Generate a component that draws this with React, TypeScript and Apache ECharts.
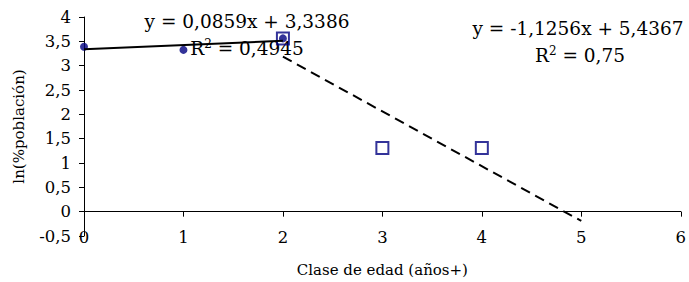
import React, { useEffect, useRef } from 'react';
import * as echarts from 'echarts';

// Data
const youngPoints: number[][] = [[0, 3.3887], [1, 3.3243], [2, 3.5605]];
const oldPoints: number[][] = [[2, 3.5605], [3, 1.3099], [4, 1.3093]];
const trendYoung: number[][] = [[0, 3.3386], [2, 3.5104]];
const trendOld: number[][] = [[2, 3.1855], [5, -0.1913]];
const eqYoung = ['y = 0,0859x + 3,3386', '0,4945'];
const eqOld = ['y = -1,1256x + 5,4367', '0,75'];
const xTitle = 'Clase de edad (años+)';
const yTitle = 'ln(%población)';

const FONT = '"DejaVu Serif", serif';
const NAVY = '#000080';

export default function App() {
  const ref = useRef<HTMLDivElement>(null);
  useEffect(() => {
    document.body.style.margin = '0';
    if (!ref.current) return;
    const chart = echarts.init(ref.current, undefined, { renderer: 'svg' });
    const fmt = (v: number) => String(v).replace('.', ',');
    const eqText = (x: number, y: number, t: string) => ({
      type: 'text', x, y, silent: true,
      style: { text: t, fill: '#000', font: `18.5px ${FONT}`, align: 'center', verticalAlign: 'middle' },
    });
    const r2Text = (x: number, y: number, v: string) => ({
      type: 'text', x, y, silent: true,
      style: {
        text: `{b|R}{s|2}{b| = ${v}}`, fill: '#000', align: 'center', verticalAlign: 'middle',
        rich: {
          b: { fontFamily: FONT, fontSize: 18.5, fill: '#000', color: '#000' },
          s: { fontFamily: FONT, fontSize: 12, fill: '#000', color: '#000', verticalAlign: 'top', padding: [0, 0, 9, 0] },
        },
      },
    });
    chart.setOption({
      animation: false,
      backgroundColor: '#fff',
      grid: { left: 84, right: 4, top: 17, bottom: 46 },
      xAxis: [
        {
          type: 'value', min: 0, max: 6, interval: 1,
          axisLine: { show: true, onZero: true, lineStyle: { color: '#000', width: 1 } },
          axisTick: { show: true, length: 5, lineStyle: { color: '#000' } },
          axisLabel: { show: false },
          splitLine: { show: false },
        },
        {
          type: 'value', min: 0, max: 6, interval: 1, position: 'bottom',
          axisLine: { show: false, onZero: false },
          axisTick: { show: false },
          axisLabel: { show: true, margin: -7, color: '#000', fontFamily: FONT, fontSize: 16.5 },
          splitLine: { show: false },
          name: xTitle, nameLocation: 'middle', nameGap: 26,
          nameTextStyle: { color: '#000', fontFamily: FONT, fontSize: 15 },
        },
      ],
      yAxis: {
        type: 'value', min: -0.5, max: 4, interval: 0.5,
        axisLine: { show: true, onZero: false, lineStyle: { color: '#000', width: 1 } },
        axisTick: { show: true, length: 5, lineStyle: { color: '#000' } },
        axisLabel: { color: '#000', fontFamily: FONT, fontSize: 16.5, margin: 13, formatter: fmt },
        splitLine: { show: false },
        name: yTitle, nameLocation: 'middle', nameRotate: 90, nameGap: 58,
        nameTextStyle: { color: '#000', fontFamily: FONT, fontSize: 15 },
      },
      series: [
        {
          type: 'line', data: trendYoung, xAxisIndex: 0, showSymbol: false, silent: true,
          lineStyle: { color: '#000', width: 2 },
        },
        {
          type: 'line', data: trendOld, xAxisIndex: 0, showSymbol: false, silent: true,
          lineStyle: { color: '#000', width: 2, type: [10, 6] },
        },
        {
          type: 'scatter', data: oldPoints, xAxisIndex: 0, symbol: 'rect', symbolSize: 12,
          itemStyle: { color: 'rgba(255,255,255,0)', borderColor: NAVY, borderWidth: 2 },
        },
        {
          type: 'scatter', data: youngPoints, xAxisIndex: 0, symbol: 'circle', symbolSize: 8,
          itemStyle: { color: NAVY },
        },
      ],
      graphic: [
        eqText(247, 21, eqYoung[0]),
        r2Text(247, 48, eqYoung[1]),
        eqText(578, 28, eqOld[0]),
        r2Text(580, 55, eqOld[1]),
      ],
    });
    return () => chart.dispose();
  }, []);
  return <div ref={ref} style={{ width: 689, height: 282 }} />;
}
